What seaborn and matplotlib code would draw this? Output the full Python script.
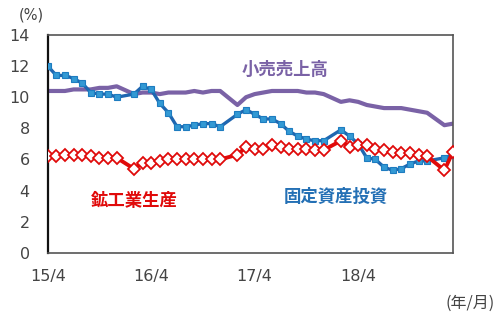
import numpy as np
import pandas as pd
import matplotlib
matplotlib.use("Agg")
import matplotlib.pyplot as plt
import seaborn as sns

nan = np.nan
# Monthly, 2015/4 .. 2019/3 (January not published -> NaN)
months = list(range(48))
xtick_pos = [0, 12, 24, 36]
xtick_labels = ["15/4", "16/4", "17/4", "18/4"]

retail = [10.4, 10.4, 10.4, 10.5, 10.5, 10.5, 10.6, 10.6, 10.7, nan, 10.2, 10.3,
          10.3, 10.2, 10.3, 10.3, 10.3, 10.4, 10.3, 10.4, 10.4, nan, 9.5, 10.0,
          10.2, 10.3, 10.4, 10.4, 10.4, 10.4, 10.3, 10.3, 10.2, nan, 9.7, 9.8,
          9.7, 9.5, 9.4, 9.3, 9.3, 9.3, 9.2, 9.1, 9.0, nan, 8.2, 8.3]
fai = [12.0, 11.4, 11.4, 11.2, 10.9, 10.3, 10.2, 10.2, 10.0, nan, 10.2, 10.7,
       10.5, 9.6, 9.0, 8.1, 8.1, 8.2, 8.3, 8.3, 8.1, nan, 8.9, 9.2,
       8.9, 8.6, 8.6, 8.3, 7.8, 7.5, 7.3, 7.2, 7.2, nan, 7.9, 7.5,
       7.0, 6.1, 6.0, 5.5, 5.3, 5.4, 5.7, 5.9, 5.9, nan, 6.1, 6.3]
ip = [6.2, 6.2, 6.3, 6.3, 6.3, 6.2, 6.1, 6.1, 6.1, nan, 5.4, 5.8,
      5.8, 5.9, 6.0, 6.0, 6.0, 6.0, 6.0, 6.0, 6.0, nan, 6.3, 6.8,
      6.7, 6.7, 6.9, 6.8, 6.7, 6.7, 6.7, 6.6, 6.6, nan, 7.2, 6.8,
      6.9, 6.9, 6.7, 6.6, 6.5, 6.4, 6.4, 6.3, 6.2, nan, 5.3, 6.5]

sns.set_style("white")
plt.rcParams["font.family"] = ["DejaVu Sans", "Noto Sans CJK JP"]
jp = ["Noto Sans CJK JP", "DejaVu Sans"]

fig = plt.figure(figsize=(5.0, 3.24), dpi=100)
ax = fig.add_axes([0.0954, 0.22, 0.8106, 0.672])

purple = "#7A62A6"
blue_line = "#1F66B0"
blue_mk = "#3399D4"
red = "#E00A0A"

d1 = pd.DataFrame({"x": months, "y": retail}).dropna()
d2 = pd.DataFrame({"x": months, "y": fai}).dropna()
d3 = pd.DataFrame({"x": months, "y": ip}).dropna()

sns.lineplot(data=d1, x="x", y="y", ax=ax, color=purple, linewidth=3.0, zorder=2)
sns.lineplot(data=d2, x="x", y="y", ax=ax, color=blue_line, linewidth=2.4,
             marker="s", markersize=4.6, markerfacecolor=blue_mk,
             markeredgecolor="#1E7CC0", markeredgewidth=0.8, zorder=3)
sns.lineplot(data=d3, x="x", y="y", ax=ax, color=red, linewidth=2.8,
             marker="D", markersize=6.3, markerfacecolor="white",
             markeredgecolor=red, markeredgewidth=1.3, zorder=4)

ax.set_xlim(0, 47)
ax.set_ylim(0, 14)
ax.set_yticks(range(0, 15, 2))
ax.set_xticks(xtick_pos)
ax.set_xticklabels(xtick_labels)
ax.set_xlabel("")
ax.set_ylabel("")

ax.tick_params(axis="x", direction="in", length=6, width=1, color="#555555",
               labelsize=11.5, labelcolor="#444444", pad=12)
ax.tick_params(axis="y", direction="in", length=3.5, width=1, color="#222222",
               labelsize=11.5, labelcolor="#444444", pad=13)

for side in ["top", "right", "bottom"]:
    ax.spines[side].set_visible(True)
    ax.spines[side].set_color("#555555")
    ax.spines[side].set_linewidth(1.2)
ax.spines["left"].set_color("#111111")
ax.spines["left"].set_linewidth(1.6)

ax.text(27.5, 11.75, "小売売上高", color=purple, fontsize=12.5, fontweight="bold",
        ha="center", va="center", family=jp)
ax.text(10.1, 3.3, "鉱工業生産", color=red, fontsize=12.5, fontweight="bold",
        ha="center", va="center", family=jp)
ax.text(33.4, 3.6, "固定資産投資", color="#2470B5", fontsize=12.5, fontweight="bold",
        ha="center", va="center", family=jp)

fig.text(31 / 500, 1 - 15 / 324, "(%)", fontsize=10.5, color="#444444",
         ha="center", va="center")
fig.text(470 / 500, 1 - 303 / 324, "(年/月)", fontsize=11.5, color="#444444",
         ha="center", va="center", family=jp)

fig.savefig("out.png", dpi=100)
